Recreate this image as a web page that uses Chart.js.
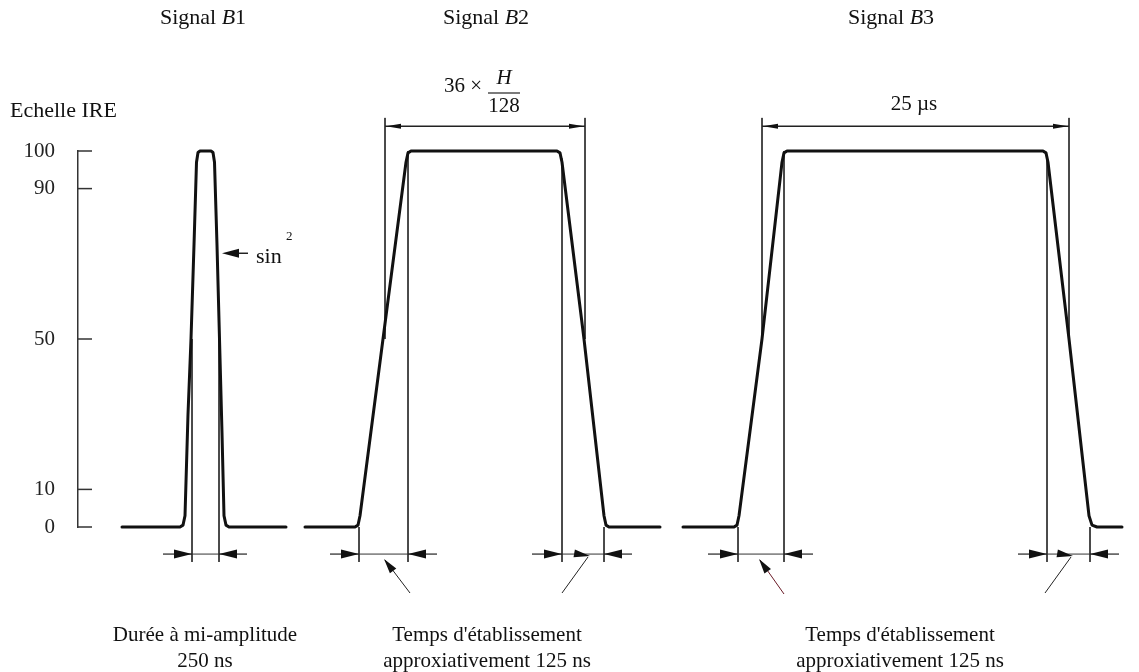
<!DOCTYPE html>
<html>
<head>
<meta charset="utf-8">
<script src="https://cdn.jsdelivr.net/npm/chart.js@4"></script>
<style>
  html, body { margin: 0; padding: 0; background: #fff; }
  #wrap { width: 1139px; height: 672px; position: relative; }
</style>
</head>
<body>
<div id="wrap"><canvas id="chart"></canvas></div>
<script>
// IRE scale ticks
const yTicks = [0, 10, 50, 90, 100];

// Signal B1 (sin2 pulse) - x in drawing units, y in IRE
const b1X = [122, 180, 183, 185, 188, 191, 194, 196.5, 198, 200, 211, 213, 214.5, 217, 219.5, 222, 224, 226, 229, 286];
const b1Y = [0, 0, 0.5, 3, 30, 50, 75, 97, 99.6, 100, 100, 99.6, 97, 75, 50, 25, 3, 0.5, 0, 0];

// Signal B2 (bar 36 x H/128)
const b2X = [305, 355, 358, 360, 383, 406, 408, 411, 557, 560, 562, 584, 604, 606, 609, 660];
const b2Y = [0, 0, 0.5, 3, 50, 97, 99.5, 100, 100, 99.5, 97, 50, 3, 0.5, 0, 0];

// Signal B3 (bar 25 us)
const b3X = [683, 734, 737, 739, 762, 782, 784, 787, 1043, 1046, 1048, 1069, 1089, 1092, 1097, 1122];
const b3Y = [0, 0, 0.5, 3, 50, 97, 99.5, 100, 100, 99.5, 97, 50, 3, 0.5, 0, 0];

// thin reference lines: [x, from IRE, to IRE]
const guides = [
  [192, 50, -9.3], [219, 50, -9.3],
  [359, 0, -9.3], [385, 108.8, 50], [408, 100, -9.3],
  [562, 98, -9.3], [585, 108.8, 50], [604, 0, -9.3],
  [738, 0, -9.3], [762, 108.8, 50], [784, 100, -9.3],
  [1047, 98, -9.3], [1069, 108.8, 50], [1090, 0, -9.3]
];

// bottom dimension rows: [outer left, left mark, right mark, outer right]
const dimRows = [
  [163, 192, 219, 247],
  [330, 359, 408, 437],
  [532, 562, 604, 632],
  [708, 738, 784, 813],
  [1018, 1047, 1090, 1119]
];
const dimRowIRE = -7.2;

// top width dimensions: [from, to, IRE level]
const widthDims = [[385, 585, 106.6], [762, 1069, 106.6]];

const SERIF = '"Liberation Serif", "DejaVu Serif", serif';

const toPts = (xs, ys) => xs.map((x, i) => ({ x: x, y: ys[i] }));
const guidePts = [];
guides.forEach(g => {
  guidePts.push({ x: g[0], y: g[1] }, { x: g[0], y: g[2] }, { x: g[0], y: null });
});
dimRows.forEach(r => {
  guidePts.push({ x: r[1], y: dimRowIRE }, { x: r[2], y: dimRowIRE }, { x: r[2], y: null });
});

function head(ctx, tx, ty, fx, fy, len, half) {
  const a = Math.atan2(ty - fy, tx - fx);
  ctx.beginPath();
  ctx.moveTo(tx, ty);
  ctx.lineTo(tx - len * Math.cos(a) + half * Math.sin(a), ty - len * Math.sin(a) - half * Math.cos(a));
  ctx.lineTo(tx - len * Math.cos(a) - half * Math.sin(a), ty - len * Math.sin(a) + half * Math.cos(a));
  ctx.closePath();
  ctx.fill();
}

function line(ctx, x1, y1, x2, y2, w, color) {
  ctx.save();
  ctx.strokeStyle = color || '#222';
  ctx.lineWidth = w || 1;
  ctx.beginPath();
  ctx.moveTo(x1, y1);
  ctx.lineTo(x2, y2);
  ctx.stroke();
  ctx.restore();
}

// text made of runs [text, italic]
function runs(ctx, parts, cx, y, size) {
  const fonts = parts.map(p => (p[1] ? 'italic ' : '') + size + 'px ' + SERIF);
  let w = 0;
  parts.forEach((p, i) => { ctx.font = fonts[i]; w += ctx.measureText(p[0]).width; });
  let x = cx - w / 2;
  ctx.textAlign = 'left';
  parts.forEach((p, i) => {
    ctx.font = fonts[i];
    ctx.fillText(p[0], x, y);
    x += ctx.measureText(p[0]).width;
  });
}

const diagram = {
  id: 'diagram',
  afterDatasetsDraw(chart) {
    const { ctx } = chart;
    const xs = chart.scales.x, ys = chart.scales.y;
    const X = v => xs.getPixelForValue(v), Y = v => ys.getPixelForValue(v);
    ctx.save();
    ctx.fillStyle = '#111';
    ctx.textBaseline = 'alphabetic';

    // inward tick marks on the IRE axis
    yTicks.forEach(t => line(ctx, X(78), Y(t), X(92), Y(t), 1.5, '#333'));

    // bottom dimension arrows
    const rowY = Y(dimRowIRE);
    dimRows.forEach(r => {
      line(ctx, X(r[0]), rowY, X(r[1]), rowY, 1.2, '#222');
      head(ctx, X(r[1]), rowY, X(r[0]), rowY, 18, 4.5);
      line(ctx, X(r[3]), rowY, X(r[2]), rowY, 1.2, '#222');
      head(ctx, X(r[2]), rowY, X(r[3]), rowY, 18, 4.5);
    });

    // leader lines to the rise-time dimensions
    line(ctx, X(410), 593, X(385), 560, 1, '#222');
    head(ctx, X(384), 559, X(410), 593, 15, 4);
    line(ctx, X(562), 593, X(588), 557, 1, '#222');
    head(ctx, X(590), 556, X(572), 553, 16, 4);
    line(ctx, X(784), 594, X(760), 560, 1, '#6a1a26');
    head(ctx, X(759), 559, X(784), 594, 15, 4);
    line(ctx, X(1045), 593, X(1071), 557, 1, '#222');
    head(ctx, X(1073), 556, X(1055), 553, 16, 4);

    // top width dimensions
    widthDims.forEach(d => {
      const yy = Y(d[2]);
      line(ctx, X(d[0]), yy, X(d[1]), yy, 1.5, '#222');
      head(ctx, X(d[0]) + 1, yy, X(d[1]), yy, 15, 2.5);
      head(ctx, X(d[1]) - 1, yy, X(d[0]), yy, 15, 2.5);
    });

    // sin^2 pointer
    line(ctx, X(248), Y(72.8), X(235), Y(72.8), 1.5, '#222');
    head(ctx, X(222), Y(72.8), X(248), Y(72.8), 17, 4.5);
    ctx.font = '22px ' + SERIF;
    ctx.textAlign = 'left';
    ctx.fillText('sin', 256, 263);
    ctx.font = '13px ' + SERIF;
    ctx.fillText('2', 286, 240);

    // titles
    runs(ctx, [['Signal ', false], ['B', true], ['1', false]], 203, 24, 22);
    runs(ctx, [['Signal ', false], ['B', true], ['2', false]], 486, 24, 22);
    runs(ctx, [['Signal ', false], ['B', true], ['3', false]], 891, 24, 22);

    ctx.font = '22px ' + SERIF;
    ctx.textAlign = 'left';
    ctx.fillText('Echelle IRE', 10, 117);

    // 36 x H/128
    ctx.font = '21px ' + SERIF;
    ctx.textAlign = 'right';
    ctx.fillText('36 \u00d7', 482, 92);
    ctx.textAlign = 'center';
    ctx.font = 'italic 21px ' + SERIF;
    ctx.fillText('H', 504, 84);
    ctx.font = '21px ' + SERIF;
    ctx.fillText('128', 504, 112);
    line(ctx, 488, 93, 520, 93, 1.2, '#222');

    ctx.fillText('25 \u00b5s', 914, 110);

    // bottom captions
    ctx.fillText('Dur\u00e9e \u00e0 mi-amplitude', 205, 641);
    ctx.fillText('250 ns', 205, 667);
    ctx.fillText("Temps d'\u00e9tablissement", 487, 641);
    ctx.fillText('approxiativement 125 ns', 487, 667);
    ctx.fillText("Temps d'\u00e9tablissement", 900, 641);
    ctx.fillText('approxiativement 125 ns', 900, 667);

    ctx.restore();
  }
};

const pulseStyle = {
  borderColor: '#111', borderWidth: 3, pointRadius: 0,
  borderJoinStyle: 'round', borderCapStyle: 'round', tension: 0, clip: false
};

new Chart(document.getElementById('chart'), {
  type: 'line',
  data: {
    datasets: [
      Object.assign({ label: 'B1', data: toPts(b1X, b1Y) }, pulseStyle),
      Object.assign({ label: 'B2', data: toPts(b2X, b2Y) }, pulseStyle),
      Object.assign({ label: 'B3', data: toPts(b3X, b3Y) }, pulseStyle),
      {
        label: 'guides', data: guidePts, borderColor: '#333', borderWidth: 1,
        pointRadius: 0, spanGaps: false, clip: false
      }
    ]
  },
  options: {
    responsive: true,
    maintainAspectRatio: false,
    animation: false,
    layout: { padding: { top: 151, bottom: 145, left: 0, right: 0 } },
    plugins: { legend: { display: false }, tooltip: { enabled: false } },
    scales: {
      x: { type: 'linear', min: 78, max: 1139, display: false },
      y: {
        type: 'linear', min: 0, max: 100,
        afterBuildTicks: s => { s.ticks = yTicks.map(v => ({ value: v })); },
        afterFit: s => { s.width = 78; },
        grid: { drawOnChartArea: false, drawTicks: false },
        border: { display: true, color: '#333', width: 1.5 },
        ticks: { padding: 23, color: '#222', font: { family: SERIF, size: 21 } }
      }
    }
  },
  plugins: [diagram]
});
</script>
</body>
</html>
